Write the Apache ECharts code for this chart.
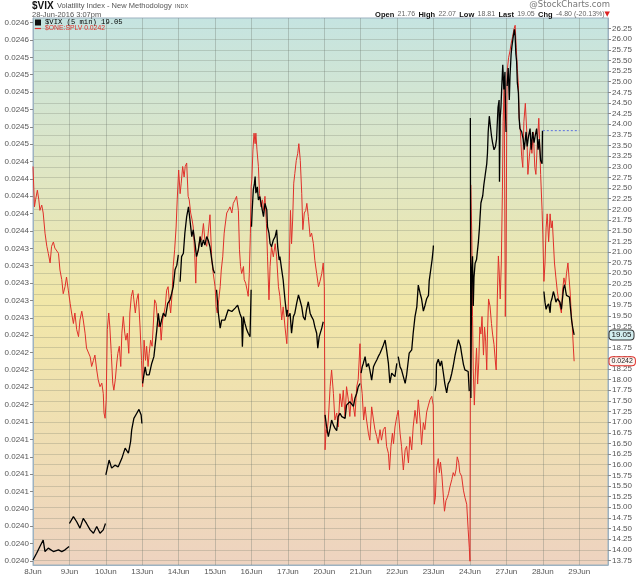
<!DOCTYPE html>
<html><head><meta charset="utf-8">
<script src="https://cdn.jsdelivr.net/npm/echarts@6/dist/echarts.min.js"></script>
<style>html,body{margin:0;padding:0;background:#fff}#c{width:640px;height:576px}</style>
</head><body><div id="c"></div>
<script>
// ---- data (time in trading sessions since 8 Jun open) ----
const dayLabels = ['8Jun','9Jun','10Jun','13Jun','14Jun','15Jun','16Jun','17Jun','20Jun','21Jun','22Jun','23Jun','24Jun','27Jun','28Jun','29Jun'];
const vixTicks = [13.75,14,14.25,14.5,14.75,15,15.25,15.5,15.75,16,16.25,16.5,16.75,17,17.25,17.5,17.75,18,18.25,18.5,18.75,19,19.25,19.5,19.75,20,20.25,20.5,20.75,21,21.25,21.5,21.75,22,22.25,22.5,22.75,23,23.25,23.5,23.75,24,24.25,24.5,24.75,25,25.25,25.5,25.75,26,26.25];
const splvTicks = [0.0239753,0.0239951,0.0240149,0.0240347,0.0240545,0.0240743,0.0240941,0.0241139,0.0241337,0.0241535,0.0241733,0.0241931,0.0242129,0.0242327,0.0242525,0.0242723,0.0242921,0.0243119,0.0243317,0.0243515,0.0243713,0.0243911,0.0244109,0.0244307,0.0244505,0.0244703,0.0244901,0.0245099,0.0245297,0.0245495,0.0245693,0.0245891];
// null = no line between sessions
const vixPoints = [
[0.00,13.76],[0.10,13.92],[0.19,14.08],[0.28,14.23],[0.33,13.96],[0.42,14.04],[0.56,13.96],[0.70,14.00],[0.79,13.96],[0.88,14.00],[0.92,14.04],[0.99,14.08],[0.995,null],
[1.00,14.62],[1.11,14.78],[1.20,14.66],[1.29,14.51],[1.38,14.74],[1.47,14.62],[1.57,14.47],[1.66,14.39],[1.75,14.55],[1.84,14.39],[1.93,14.47],[1.99,14.62],[1.995,null],
[2.00,15.76],[2.09,16.11],[2.16,15.92],[2.25,15.99],[2.34,15.95],[2.44,16.15],[2.53,16.39],[2.62,16.27],[2.68,16.54],[2.71,16.82],[2.77,17.09],[2.85,17.21],[2.91,17.30],[2.97,17.17],[2.99,16.97],[2.995,null],
[3.01,17.91],[3.08,18.30],[3.12,18.11],[3.19,18.11],[3.26,18.38],[3.32,18.54],[3.40,19.17],[3.44,19.56],[3.49,19.24],[3.53,19.40],[3.58,19.56],[3.64,19.48],[3.70,19.79],[3.76,19.87],[3.81,20.03],[3.85,20.18],[3.90,20.58],[3.95,20.69],[3.99,20.93],[3.995,null],
[4.04,20.30],[4.08,20.89],[4.13,20.97],[4.17,21.44],[4.22,21.83],[4.27,22.06],[4.31,21.75],[4.36,21.36],[4.40,21.52],[4.45,21.20],[4.49,20.89],[4.54,21.05],[4.59,21.36],[4.63,21.12],[4.68,21.28],[4.72,21.16],[4.77,21.36],[4.81,21.28],[4.86,21.12],[4.91,20.81],[4.95,20.58],[4.99,20.50],[4.995,null],
[5.04,20.11],[5.09,19.56],[5.14,19.21],[5.18,19.40],[5.27,19.40],[5.36,19.64],[5.46,19.60],[5.55,19.68],[5.62,19.75],[5.68,19.56],[5.73,19.44],[5.75,18.77],[5.78,19.48],[5.82,19.32],[5.87,19.17],[5.91,19.09],[5.96,19.01],[5.99,20.11],[5.995,null],
[6.00,21.59],[6.02,21.99],[6.05,22.46],[6.08,22.61],[6.10,22.77],[6.12,22.38],[6.16,22.53],[6.19,22.22],[6.23,22.30],[6.28,22.06],[6.33,21.83],[6.37,22.14],[6.42,21.99],[6.44,21.59],[6.48,21.44],[6.51,21.20],[6.55,21.12],[6.60,21.28],[6.65,21.36],[6.69,21.52],[6.72,21.12],[6.76,20.81],[6.78,20.89],[6.83,20.58],[6.87,20.34],[6.92,19.87],[6.97,19.48],[6.99,19.64],[6.995,null],
[7.01,19.48],[7.06,19.56],[7.10,19.09],[7.15,19.48],[7.19,19.56],[7.24,19.79],[7.29,19.99],[7.33,19.87],[7.38,19.71],[7.42,19.48],[7.47,19.40],[7.51,19.64],[7.56,19.83],[7.61,19.56],[7.65,19.48],[7.70,19.40],[7.74,19.24],[7.79,19.09],[7.82,18.74],[7.86,19.01],[7.93,19.21],[7.97,19.36],[7.995,null],
[8.02,17.17],[8.06,16.90],[8.11,16.66],[8.16,16.86],[8.20,17.05],[8.25,16.93],[8.29,16.86],[8.34,16.80],[8.38,17.13],[8.43,17.21],[8.48,17.13],[8.52,17.17],[8.57,17.09],[8.61,17.40],[8.66,17.37],[8.70,17.48],[8.75,17.44],[8.80,17.37],[8.84,17.56],[8.89,17.68],[8.93,17.83],[8.98,17.91],[8.995,null],
[9.01,18.15],[9.04,18.30],[9.07,18.38],[9.12,18.54],[9.16,18.30],[9.21,18.38],[9.25,18.23],[9.30,17.99],[9.35,18.30],[9.39,18.38],[9.44,18.46],[9.48,18.54],[9.53,18.62],[9.57,18.70],[9.62,18.81],[9.67,18.93],[9.71,18.70],[9.76,18.38],[9.80,17.92],[9.85,18.15],[9.89,18.19],[9.94,18.07],[9.99,18.38],[9.995,null],
[10.03,18.54],[10.08,18.30],[10.12,18.23],[10.17,18.07],[10.22,17.91],[10.26,18.11],[10.31,18.15],[10.33,18.62],[10.40,18.70],[10.44,19.09],[10.49,19.48],[10.54,19.71],[10.58,20.22],[10.63,20.03],[10.67,19.90],[10.72,19.61],[10.76,19.73],[10.81,19.90],[10.86,19.98],[10.88,20.32],[10.92,20.57],[10.96,20.82],[10.99,21.07],[10.995,21.15],[10.998,null],
[11.04,17.73],[11.07,17.90],[11.08,18.36],[11.13,18.48],[11.18,18.32],[11.22,18.44],[11.27,18.15],[11.31,17.90],[11.36,17.69],[11.40,17.90],[11.45,17.98],[11.50,18.15],[11.54,18.32],[11.59,18.57],[11.63,18.73],[11.68,18.94],[11.71,18.86],[11.74,18.78],[11.77,18.61],[11.82,18.36],[11.86,18.23],[11.91,18.23],[11.95,18.19],[11.98,17.73],[11.995,null],
[12.01,24.15],[12.025,17.57],[12.045,20.48],[12.07,20.90],[12.09,19.73],[12.11,20.40],[12.14,20.73],[12.18,20.82],[12.23,21.23],[12.26,21.57],[12.27,21.73],[12.30,22.15],[12.35,22.32],[12.38,22.57],[12.42,22.82],[12.46,23.07],[12.48,23.32],[12.50,23.82],[12.53,24.19],[12.57,24.23],[12.59,23.73],[12.62,23.57],[12.66,23.40],[12.70,23.48],[12.73,23.65],[12.77,24.40],[12.80,24.57],[12.81,22.65],[12.83,24.15],[12.85,24.40],[12.87,24.82],[12.90,25.40],[12.93,24.82],[12.96,25.23],[12.98,24.15],[12.99,23.82],[12.995,null],
[13.02,24.90],[13.05,25.32],[13.08,24.57],[13.10,25.15],[13.13,25.65],[13.15,25.82],[13.19,26.07],[13.22,26.23],[13.24,26.07],[13.26,25.65],[13.28,25.48],[13.30,24.98],[13.33,24.73],[13.35,24.15],[13.37,23.90],[13.42,23.82],[13.46,23.65],[13.49,23.40],[13.54,23.82],[13.57,23.48],[13.61,23.73],[13.65,23.90],[13.68,23.40],[13.72,23.82],[13.76,23.57],[13.79,23.73],[13.83,23.90],[13.87,23.40],[13.90,23.65],[13.94,23.15],[13.98,23.07],[13.99,23.85],[13.995,null],
[14.03,20.07],[14.06,19.82],[14.09,19.65],[14.12,19.73],[14.16,19.78],[14.20,19.57],[14.22,19.82],[14.25,19.90],[14.29,20.07],[14.32,19.98],[14.36,19.82],[14.40,19.90],[14.43,19.86],[14.47,19.82],[14.51,19.65],[14.54,19.90],[14.57,20.15],[14.60,20.23],[14.63,20.07],[14.65,19.98],[14.69,19.98],[14.73,19.94],[14.76,19.90],[14.79,19.40],[14.82,19.23],[14.86,19.05]
];
const splvPoints = [
[0.00,0.024425],[0.04,0.024379],[0.07,0.024387],[0.12,0.024398],[0.16,0.024387],[0.19,0.024375],[0.24,0.024381],[0.28,0.024372],[0.33,0.024349],[0.38,0.024334],[0.42,0.024326],[0.47,0.024315],[0.51,0.024334],[0.56,0.024339],[0.60,0.024332],[0.65,0.024334],[0.70,0.024326],[0.74,0.024307],[0.79,0.024296],[0.83,0.024280],[0.88,0.024288],[0.92,0.024299],[0.97,0.024284],
[1.02,0.024269],[1.06,0.024258],[1.11,0.024246],[1.15,0.024258],[1.20,0.024239],[1.25,0.024231],[1.29,0.024250],[1.34,0.024260],[1.38,0.024250],[1.43,0.024235],[1.47,0.024218],[1.52,0.024216],[1.57,0.024208],[1.61,0.024197],[1.66,0.024204],[1.70,0.024210],[1.75,0.024193],[1.79,0.024182],[1.84,0.024174],[1.89,0.024178],[1.93,0.024166],[1.95,0.024144],[1.98,0.024138],
[2.01,0.024159],[2.04,0.024239],[2.08,0.024258],[2.11,0.024242],[2.15,0.024212],[2.19,0.024178],[2.22,0.024170],[2.26,0.024182],[2.30,0.024201],[2.33,0.024212],[2.37,0.024220],[2.41,0.024197],[2.44,0.024235],[2.48,0.024254],[2.52,0.024235],[2.55,0.024227],[2.59,0.024235],[2.63,0.024212],[2.66,0.024258],[2.70,0.024277],[2.74,0.024284],[2.77,0.024273],[2.81,0.024258],[2.85,0.024273],[2.89,0.024280],[2.94,0.024242],[2.98,0.024204],
[3.01,0.024174],[3.05,0.024227],[3.09,0.024204],[3.12,0.024220],[3.16,0.024197],[3.19,0.024212],[3.23,0.024227],[3.27,0.024220],[3.30,0.024242],[3.34,0.024273],[3.38,0.024269],[3.41,0.024254],[3.45,0.024242],[3.49,0.024246],[3.52,0.024227],[3.56,0.024250],[3.60,0.024258],[3.63,0.024265],[3.67,0.024284],[3.71,0.024288],[3.74,0.024273],[3.78,0.024258],[3.82,0.024280],[3.85,0.024311],[3.89,0.024330],[3.93,0.024356],[3.96,0.024387],
[4.00,0.024421],[4.04,0.024394],[4.07,0.024406],[4.11,0.024425],[4.15,0.024413],[4.18,0.024425],[4.22,0.024429],[4.26,0.024391],[4.29,0.024387],[4.33,0.024372],[4.37,0.024364],[4.40,0.024356],[4.44,0.024326],[4.47,0.024292],[4.49,0.024322],[4.54,0.024330],[4.59,0.024345],[4.63,0.024341],[4.68,0.024360],[4.72,0.024341],[4.77,0.024334],[4.81,0.024349],[4.86,0.024370],[4.91,0.024318],[4.95,0.024303],
[5.00,0.024288],[5.03,0.024265],[5.06,0.024258],[5.10,0.024273],[5.14,0.024288],[5.17,0.024307],[5.21,0.024322],[5.25,0.024349],[5.27,0.024356],[5.32,0.024372],[5.36,0.024375],[5.41,0.024379],[5.46,0.024372],[5.50,0.024383],[5.55,0.024387],[5.59,0.024391],[5.64,0.024375],[5.67,0.024330],[5.70,0.024311],[5.73,0.024303],[5.78,0.024311],[5.80,0.024296],[5.84,0.024292],[5.88,0.024284],[5.91,0.024277],[5.94,0.024303],[5.97,0.024349],[5.99,0.024402],
[6.01,0.024410],[6.04,0.024444],[6.07,0.024463],[6.10,0.024451],[6.12,0.024463],[6.15,0.024444],[6.19,0.024425],[6.22,0.024394],[6.26,0.024379],[6.30,0.024387],[6.33,0.024375],[6.37,0.024391],[6.41,0.024360],[6.44,0.024322],[6.48,0.024273],[6.51,0.024311],[6.55,0.024334],[6.60,0.024322],[6.65,0.024337],[6.69,0.024322],[6.74,0.024288],[6.78,0.024277],[6.83,0.024250],[6.87,0.024265],[6.92,0.024242],[6.97,0.024223],
[7.01,0.024265],[7.04,0.024318],[7.07,0.024375],[7.10,0.024337],[7.13,0.024364],[7.16,0.024406],[7.19,0.024417],[7.23,0.024432],[7.27,0.024440],[7.30,0.024451],[7.34,0.024432],[7.38,0.024394],[7.41,0.024353],[7.45,0.024372],[7.49,0.024375],[7.52,0.024383],[7.56,0.024368],[7.61,0.024345],[7.65,0.024349],[7.70,0.024337],[7.74,0.024318],[7.79,0.024303],[7.84,0.024288],[7.88,0.024294],[7.93,0.024303],[7.97,0.024315],[8.00,0.024288],
[8.02,0.024102],[8.05,0.024125],[8.07,0.024121],[8.11,0.024136],[8.16,0.024174],[8.20,0.024193],[8.25,0.024166],[8.29,0.024136],[8.34,0.024144],[8.38,0.024128],[8.43,0.024166],[8.48,0.024151],[8.52,0.024170],[8.57,0.024140],[8.61,0.024174],[8.66,0.024159],[8.70,0.024140],[8.75,0.024166],[8.80,0.024151],[8.84,0.024140],[8.89,0.024174],[8.93,0.024182],[8.98,0.024223],
[9.01,0.024178],[9.04,0.024166],[9.08,0.024136],[9.12,0.024151],[9.16,0.024136],[9.21,0.024121],[9.25,0.024113],[9.30,0.024151],[9.35,0.024136],[9.39,0.024125],[9.44,0.024117],[9.48,0.024109],[9.53,0.024125],[9.57,0.024113],[9.62,0.024125],[9.67,0.024128],[9.71,0.024106],[9.76,0.024098],[9.79,0.024079],[9.83,0.024106],[9.87,0.024121],[9.90,0.024109],[9.94,0.024128],[9.99,0.024140],
[10.03,0.024147],[10.08,0.024121],[10.12,0.024106],[10.17,0.024079],[10.22,0.024102],[10.26,0.024106],[10.31,0.024087],[10.35,0.024117],[10.40,0.024102],[10.44,0.024128],[10.49,0.024147],[10.54,0.024132],[10.58,0.024159],[10.63,0.024136],[10.67,0.024108],[10.72,0.024133],[10.76,0.024125],[10.81,0.024145],[10.86,0.024153],[10.90,0.024159],[10.95,0.024163],[10.99,0.024153],
[11.02,0.024040],[11.05,0.024048],[11.08,0.024080],[11.13,0.024092],[11.16,0.024076],[11.19,0.024088],[11.23,0.024072],[11.27,0.024048],[11.30,0.024032],[11.34,0.024044],[11.38,0.024048],[11.41,0.024052],[11.45,0.024060],[11.50,0.024068],[11.54,0.024076],[11.58,0.024072],[11.62,0.024080],[11.65,0.024094],[11.69,0.024088],[11.72,0.024076],[11.77,0.024072],[11.82,0.024056],[11.86,0.024048],[11.91,0.024040],[11.95,0.024011],[11.98,0.023991],[12.00,0.023975],
[12.02,0.024404],[12.05,0.024347],[12.07,0.024254],[12.09,0.024193],[12.12,0.024153],[12.15,0.024193],[12.18,0.024218],[12.21,0.024177],[12.24,0.024201],[12.27,0.024242],[12.30,0.024234],[12.33,0.024254],[12.37,0.024210],[12.40,0.024242],[12.43,0.024226],[12.46,0.024193],[12.48,0.024234],[12.51,0.024274],[12.55,0.024266],[12.59,0.024246],[12.62,0.024234],[12.66,0.024222],[12.70,0.024201],[12.72,0.024193],[12.75,0.024274],[12.78,0.024323],[12.80,0.024307],[12.83,0.024274],[12.86,0.024315],[12.89,0.024396],[12.91,0.024476],[12.94,0.024517],[12.97,0.024254],[12.99,0.024315],
[13.01,0.024476],[13.02,0.024533],[13.06,0.024549],[13.10,0.024557],[13.13,0.024565],[13.17,0.024573],[13.21,0.024582],[13.24,0.024586],[13.27,0.024561],[13.30,0.024537],[13.33,0.024517],[13.35,0.024480],[13.38,0.024468],[13.42,0.024436],[13.45,0.024424],[13.48,0.024476],[13.52,0.024497],[13.56,0.024464],[13.59,0.024416],[13.63,0.024436],[13.67,0.024452],[13.70,0.024440],[13.74,0.024464],[13.78,0.024424],[13.81,0.024416],[13.85,0.024452],[13.89,0.024480],[13.91,0.024456],[13.94,0.024416],[13.98,0.024375],[14.00,0.024347],
[14.03,0.024294],[14.06,0.024315],[14.09,0.024355],[14.12,0.024371],[14.16,0.024339],[14.20,0.024371],[14.23,0.024355],[14.26,0.024363],[14.29,0.024339],[14.32,0.024315],[14.36,0.024298],[14.40,0.024282],[14.43,0.024274],[14.47,0.024266],[14.51,0.024258],[14.54,0.024282],[14.58,0.024298],[14.62,0.024290],[14.65,0.024303],[14.69,0.024315],[14.72,0.024298],[14.75,0.024282],[14.78,0.024258],[14.81,0.024242],[14.84,0.024218],[14.86,0.024203]
];
const prevClose = 23.85;             // 27 Jun close, drawn over the 28 Jun session
const prevCloseSession = ['28Jun','29Jun'];
const quote = {open:21.76, high:22.07, low:18.81, last:19.05, chg:-4.80, chgPct:-20.13};
const stampText = '28-Jun-2016 3:07pm';

// ---- chart ----
const FONT = '"Liberation Sans", Arial, sans-serif';
const X_MAX = 15.79;
const lastVix = vixPoints[vixPoints.length - 1][1];
const lastSplv = splvPoints[splvPoints.length - 1][1];
const vixName = '$VIX (5 min) ' + lastVix.toFixed(2);
const splvName = '$ONE:SPLV ' + lastSplv.toFixed(4);
const axisCol = '#9db2c1';

const chart = echarts.init(document.getElementById('c'), null, {width:640, height:576});
chart.setOption({
  animation:false,
  backgroundColor:'#ffffff',
  graphic:[
    {type:'text', x:32, y:6, silent:true, style:{
      text:'{b|$VIX} {n|Volatility Index - New Methodology} {s|INDX}', verticalAlign:'middle',
      rich:{b:{font:'bold 10px "Liberation Sans", Arial, sans-serif', fill:'#111'},
            n:{font:'7.5px "Liberation Sans", Arial, sans-serif', fill:'#555'},
            s:{font:'5.5px "Liberation Sans", Arial, sans-serif', fill:'#555'}}}},
    {type:'text', x:32, y:14.5, silent:true, style:{text:stampText, verticalAlign:'middle',
      font:'7.5px "Liberation Sans", Arial, sans-serif', fill:'#555'}},
    {type:'text', x:610, y:5, silent:true, style:{text:'@StockCharts.com', align:'right', verticalAlign:'middle',
      font:'8.5px "DejaVu Sans", sans-serif', fill:'#777'}},
    {type:'text', x:610, y:14.5, silent:true, style:{
      text:'{k|Open} {v|'+quote.open.toFixed(2)+'} {k|High} {v|'+quote.high.toFixed(2)+'} {k|Low} {v|'+quote.low.toFixed(2)+'} {k|Last} {v|'+quote.last.toFixed(2)+'} {k|Chg} {v|'+quote.chg.toFixed(2)+' ('+quote.chgPct.toFixed(2)+'%)}{a|▼}',
      align:'right', verticalAlign:'middle',
      rich:{k:{font:'bold 7.5px "Liberation Sans", Arial, sans-serif', fill:'#111'},
            v:{font:'7px "Liberation Sans", Arial, sans-serif', fill:'#666'},
            a:{font:'7px "DejaVu Sans", sans-serif', fill:'#d22'}}}}
  ],
  legend:{
    left:35, top:19, orient:'vertical', itemGap:-1, itemWidth:6, itemHeight:6, selectedMode:false, padding:0,
    data:[
      {name:vixName, icon:'rect', itemStyle:{color:'#111'}, textStyle:{fontFamily:'"Liberation Mono", "DejaVu Sans Mono", monospace', fontSize:7.2, color:'#000', padding:[0,0,0,-1]}},
      {name:splvName, icon:'path://M0,4H10V6H0Z', itemStyle:{color:'#e0302a'}, textStyle:{fontFamily:FONT, fontSize:6.8, color:'#e0302a', padding:[0,0,0,-1]}}
    ]
  },
  grid:{left:33, right:32, top:18, bottom:11, show:true, borderColor:axisCol, borderWidth:1,
    backgroundColor:new echarts.graphic.LinearGradient(0,0,0,1,[
      {offset:0, color:'#c5e4e1'},{offset:0.28, color:'#dfe6c4'},{offset:0.52, color:'#f1e7a8'},{offset:0.78, color:'#efdeb4'},{offset:1, color:'#eed3c0'}])},
  xAxis:{
    type:'value', min:0, max:X_MAX, interval:1,
    axisLine:{show:true, lineStyle:{color:axisCol}}, axisTick:{show:false},
    axisLabel:{fontSize:8, color:'#555', fontFamily:FONT, margin:3, showMaxLabel:false,
      formatter:v => (Math.abs(v - Math.round(v)) < 1e-6 && dayLabels[Math.round(v)]) || ''},
    splitLine:{show:true, lineStyle:{color:'rgba(105,115,105,0.32)', width:1}}
  },
  yAxis:[
    {type:'value', position:'left', min:0.0239707, max:0.0245943, scale:true,
     axisLine:{show:true, lineStyle:{color:axisCol}},
     axisTick:{show:true, length:3, customValues:splvTicks, lineStyle:{color:'#888'}},
     axisLabel:{customValues:splvTicks, formatter:v => v.toFixed(4), fontSize:8, color:'#555', fontFamily:FONT, margin:4},
     splitLine:{show:false}},
    {type:'value', position:'right', min:13.644, max:26.497, scale:true,
     axisLine:{show:true, lineStyle:{color:axisCol}},
     axisTick:{show:true, length:3, customValues:vixTicks, lineStyle:{color:'#888'}},
     axisLabel:{customValues:vixTicks, formatter:v => v.toFixed(2), fontSize:8, color:'#555', fontFamily:FONT, margin:4},
     splitLine:{show:true, lineStyle:{color:'rgba(110,115,100,0.26)', width:1}}}
  ],
  series:[
    {name:splvName, type:'line', yAxisIndex:0, showSymbol:false, symbol:'none', z:2,
     data:splvPoints, lineStyle:{color:'#e0302a', width:1}, itemStyle:{color:'#e0302a'},
     markPoint:{symbol:'circle', symbolSize:1, itemStyle:{color:'rgba(0,0,0,0)'}, silent:true,
       data:[{coord:[X_MAX, lastSplv]}],
       label:{show:true, position:'right', distance:1, formatter:lastSplv.toFixed(4), fontSize:7, color:'#222', fontFamily:FONT,
              backgroundColor:'#fdf4f0', borderColor:'#e0302a', borderWidth:1, borderRadius:3, padding:[1,2,0,2]}}},
    {name:vixName, type:'line', yAxisIndex:1, showSymbol:false, symbol:'none', z:3, connectNulls:false,
     data:vixPoints.map(p => [p[0], p[1] === null ? '-' : p[1]]), lineStyle:{color:'#000', width:1.3}, itemStyle:{color:'#111'},
     markPoint:{symbol:'circle', symbolSize:1, itemStyle:{color:'rgba(0,0,0,0)'}, silent:true,
       data:[{coord:[X_MAX, lastVix]}],
       label:{show:true, position:'right', distance:1, formatter:lastVix.toFixed(2), fontSize:8, color:'#111', fontFamily:FONT,
              backgroundColor:'#d2eef0', borderColor:'#333', borderWidth:1, borderRadius:3, padding:[1,2,0,2]}}},
    {name:'prevClose', type:'line', yAxisIndex:1, showSymbol:false, symbol:'none', z:4, silent:true,
     data:prevCloseSession.map(d => [dayLabels.indexOf(d), prevClose]),
     lineStyle:{color:'#5b6fe0', width:1, type:[2,2]}}
  ]
});
</script></body></html>
